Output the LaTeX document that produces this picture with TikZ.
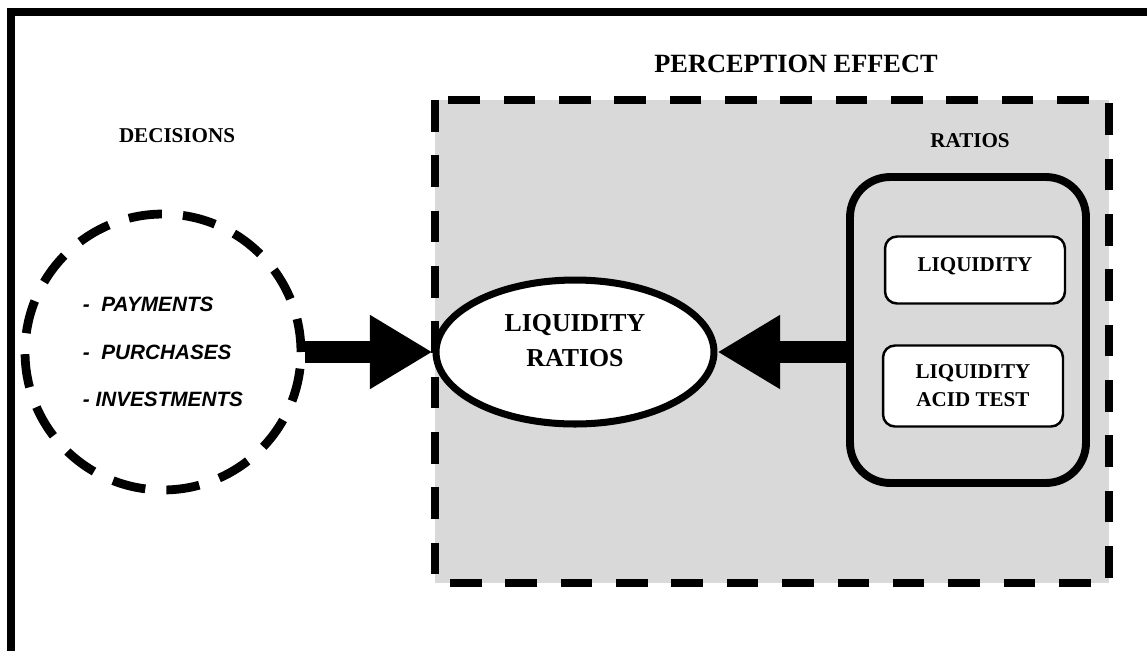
\documentclass[tikz,border=0pt]{standalone}
\usepackage{fontspec}
\setmainfont{Liberation Serif}
\setsansfont{Liberation Sans}
\usetikzlibrary{arrows.meta,shapes.geometric}
\definecolor{panelgray}{RGB}{217,217,217}

\begin{document}
\begin{tikzpicture}[x=0.02cm,y=-0.02cm,
	dashline/.style={line width=4.5pt, dash pattern=on 18pt off 13.5pt},
	bigarrow/.style={line width=13pt, -{Triangle[length=35.7pt,width=39.7pt]}},
	heading/.style={font=\bfseries\fontsize{12}{14}\selectfont},
	smallbox/.style={draw, line width=1.4pt, rounded corners=6.8pt, fill=white,
		minimum width=3.6cm, inner sep=0pt, align=center,
		font=\bfseries\fontsize{12}{15.9}\selectfont}]
	
	% Frame
	\clip (0,0) rectangle (1147,650);
	\draw[line width=4.5pt] (11,12) rectangle (1200,700);
	
	% Perception panel
	\draw[dashline, fill=panelgray] (435,100) rectangle (1109,583);
	\node[font=\bfseries\fontsize{15}{18}\selectfont] (pe) at (796,64) {PERCEPTION EFFECT};
	
	% Decisions
	\node[heading] (dech) at (177,136) {DECISIONS};
	\node[circle, draw, dash pattern=on 19pt off 12pt, line width=5pt,
		minimum size=5.52cm, inner sep=0pt, align=left,
		font=\sffamily\bfseries\itshape\fontsize{11.8}{27.2}\selectfont]
		(dec) at (163,352) {-\ \ PAYMENTS\\-\ \ PURCHASES\\- INVESTMENTS};
	
	% Ellipse
	\node[ellipse, draw, line width=4pt, fill=white, minimum width=5.56cm,
		minimum height=2.88cm, inner sep=0pt, align=center,
		font=\bfseries\fontsize{14.7}{19.8}\selectfont]
		(lr) at (575,352) {LIQUIDITY\\RATIOS\rule[-13pt]{0pt}{0pt}};
	
	% Ratios
	\node[heading] (rath) at (970,141) {RATIOS};
	\node[draw, line width=4.5pt, rounded corners=0.8cm, minimum width=4.72cm,
		minimum height=6.12cm] (ratios) at (968,330) {};
	\node[smallbox, minimum height=1.34cm] (liq) at (975,270) {LIQUIDITY\rule[-6.8pt]{0pt}{0pt}};
	\node[smallbox, minimum height=1.62cm] (acid) at (973,386) {LIQUIDITY\\ACID TEST};
	
	% Arrows
	\draw[bigarrow] (dec.east) -- (lr.west);
	\draw[bigarrow] (lr.east -| ratios.west) -- (lr.east);
	
\end{tikzpicture}
\end{document}
